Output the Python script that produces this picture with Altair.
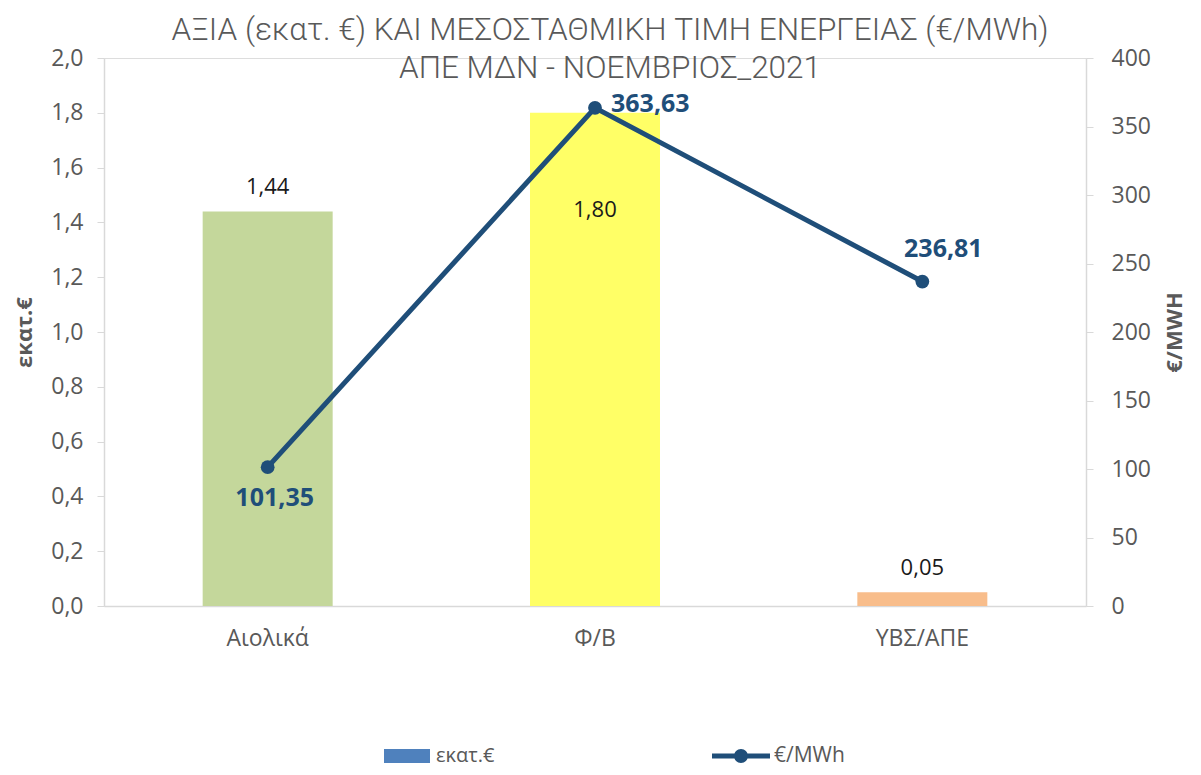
import altair as alt
import pandas as pd

categories = ["Αιολικά", "Φ/Β", "ΥΒΣ/ΑΠΕ"]
value_meur = [1.44, 1.80, 0.05]
price_mwh = [101.35, 363.63, 236.81]
bar_colors = ["#C4D79B", "#FFFF66", "#F8BD8B"]
left_ticks = [0.0, 0.2, 0.4, 0.6, 0.8, 1.0, 1.2, 1.4, 1.6, 1.8, 2.0]
right_ticks = [0, 50, 100, 150, 200, 250, 300, 350, 400]
series_names = ["εκατ.€", "€/MWh"]
title_lines = ["ΑΞΙΑ (εκατ. €) ΚΑΙ ΜΕΣΟΣΤΑΘΜΙΚΗ ΤΙΜΗ ΕΝΕΡΓΕΙΑΣ (€/MWh)",
               "ΑΠΕ ΜΔΝ - ΝΟΕΜΒΡΙΟΣ_2021"]

df = pd.DataFrame({"cat": categories, "meur": value_meur, "price": price_mwh})

LINE = "#1F4E79"
GRAY = "#595959"
AXC = "#D9D9D9"
FONT = "Open Sans"

x_enc = alt.X("cat:N", sort=categories,
              scale=alt.Scale(paddingInner=0, paddingOuter=0),
              axis=alt.Axis(title=None, labelAngle=0, ticks=False, domainColor=AXC,
                            domainWidth=1.5, labelFontSize=23, labelColor=GRAY,
                            labelFont=FONT, labelPadding=21))

base = alt.Chart(df).encode(x=x_enc).transform_calculate(
    meur_lbl="replace(format(datum.meur, '.2f'), '.', ',')",
    price_lbl="replace(format(datum.price, '.2f'), '.', ',')",
)

y_left = alt.Y("meur:Q", scale=alt.Scale(domain=[0, 2], nice=False),
               axis=alt.Axis(values=left_ticks, grid=False, title="εκατ.€",
                             labelExpr="replace(format(datum.value, '.1f'), '.', ',')",
                             labelFontSize=23, labelColor=GRAY, labelFont=FONT,
                             labelPadding=14, tickSize=7, tickColor=AXC,
                             domainColor=AXC, domainWidth=1.5,
                             titleFontSize=22, titleFont=FONT, titleColor=GRAY,
                             titleFontWeight="bold", titlePadding=14))

bars = base.mark_bar(size=130).encode(
    y=y_left,
    fill=alt.Fill("cat:N", scale=alt.Scale(domain=categories, range=bar_colors), legend=None),
)

bar_lbl_top = base.transform_filter(alt.datum.cat != categories[1]).mark_text(
    dy=-24, fontSize=22, font=FONT, color="#1a1a1a", baseline="middle"
).encode(y=alt.Y("meur:Q"), text="meur_lbl:N")

bar_lbl_in = base.transform_filter(alt.datum.cat == categories[1]).mark_text(
    dy=97, fontSize=22, font=FONT, color="#1a1a1a", baseline="middle"
).encode(y=alt.Y("meur:Q"), text="meur_lbl:N")

legend_bar = alt.Chart(df).transform_filter("false").mark_point(filled=True, opacity=1).encode(
    color=alt.Color("s1:N", scale=alt.Scale(domain=[series_names[0]], range=["#4F81BD"]),
                    legend=alt.Legend(title=None, orient="none", legendX=280, legendY=675,
                                      symbolType="M-1,-0.3H1V0.3H-1Z", symbolSize=2116,
                                      symbolStrokeWidth=0, symbolOpacity=1,
                                      labelFontSize=20, labelColor=GRAY, labelFont=FONT,
                                      labelOffset=6, padding=0))
)

left = alt.layer(bars, bar_lbl_top, bar_lbl_in, legend_bar)

y_right = alt.Y("price:Q", scale=alt.Scale(domain=[0, 400], nice=False),
                axis=alt.Axis(values=right_ticks, grid=False, title="€/MWH", orient="right",
                              labelFontSize=23, labelColor=GRAY, labelFont=FONT,
                              labelPadding=18, tickSize=7, tickColor=AXC,
                              domainColor=AXC, domainWidth=1.5, titleAngle=270,
                              titleFontSize=22, titleFont=FONT, titleColor=GRAY,
                              titleFontWeight="bold", titlePadding=36))

line = base.mark_line(strokeWidth=5, color=LINE).encode(y=y_right)
pts = base.mark_circle(size=190, color=LINE, opacity=1).encode(y=alt.Y("price:Q"))

lbl_kw = dict(fontSize=25, font=FONT, fontWeight="bold", color=LINE, baseline="middle")
pl1 = base.transform_filter(alt.datum.cat == categories[0]).mark_text(
    dx=7, dy=31, align="center", **lbl_kw).encode(y=alt.Y("price:Q"), text="price_lbl:N")
pl2 = base.transform_filter(alt.datum.cat == categories[1]).mark_text(
    dx=16, dy=-4, align="left", **lbl_kw).encode(y=alt.Y("price:Q"), text="price_lbl:N")
pl3 = base.transform_filter(alt.datum.cat == categories[2]).mark_text(
    dx=21, dy=-33, align="center", **lbl_kw).encode(y=alt.Y("price:Q"), text="price_lbl:N")

legend_line = alt.Chart(df).transform_filter("false").mark_point(filled=True, opacity=1).encode(
    color=alt.Color("s2:N", scale=alt.Scale(domain=[series_names[1]], range=[LINE]),
                    legend=alt.Legend(title=None, orient="none", legendX=608, legendY=669,
                                      symbolType="M-1,-0.09L1,-0.09L1,0.09L-1,0.09Z M0.24,0A0.24,0.24,0,1,1,-0.24,0A0.24,0.24,0,1,1,0.24,0Z",
                                      symbolSize=3364, symbolStrokeWidth=0, symbolOpacity=1,
                                      labelFontSize=21, labelColor=GRAY, labelFont=FONT,
                                      labelOffset=4, padding=0))
)

right = alt.layer(line, pts, pl1, pl2, pl3, legend_line)

chart = alt.layer(left, right).resolve_scale(
    y="independent", color="independent"
).resolve_legend(color="independent").properties(
    width=982, height=548,
    autosize=alt.AutoSizeParams(type="none"),
    padding={"left": 96, "top": 50, "right": 107, "bottom": 165},
    title=alt.TitleParams(text=title_lines, fontSize=31.5, font="Roboto",
                          color=GRAY, fontWeight=300, lineHeight=38,
                          anchor="middle", offset=-37, dx=15),
).configure_view(stroke=None).configure(background="white")

chart.save("out.html", embed_options={"renderer": "svg", "actions": False})
